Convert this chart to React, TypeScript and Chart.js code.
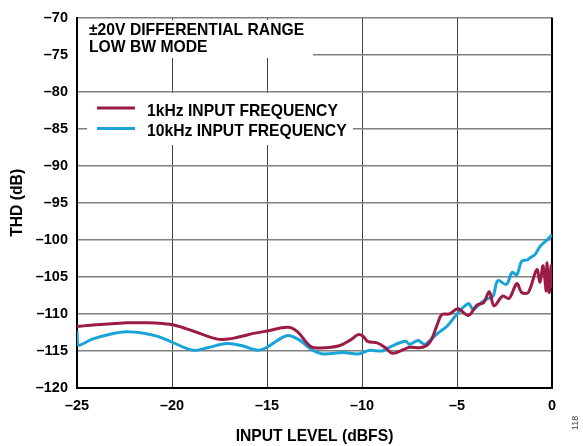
import React, { useEffect, useRef } from "react";
import { Chart, registerables } from "chart.js";

Chart.register(...registerables);

const xTicks = [-25, -20, -15, -10, -5, 0];
const yTicks = [-120, -115, -110, -105, -100, -95, -90, -85, -80, -75, -70];

const red1kX = [-25, -24, -23, -22.4, -21.3, -20.5, -19.9, -18.9, -17.6, -16.8, -16, -15, -13.9, -13.4, -12.7, -12.2, -11.2, -10.6, -10.2, -9.95, -9.7, -9.2, -8.8, -8.4, -7.8, -7.5, -6.8, -6.4, -6.05, -5.8, -5.4, -4.95, -4.4, -3.95, -3.6, -3.3, -3.05, -2.6, -2.26, -1.85, -1.6, -1.25, -0.8, -0.63, -0.47, -0.3, -0.26, -0.15, -0.05, 0];
const red1kY = [-111.7, -111.45, -111.3, -111.2, -111.2, -111.3, -111.5, -112.3, -113.4, -113.3, -112.8, -112.3, -111.8, -112.4, -114.4, -114.6, -114.3, -113.5, -112.8, -113.0, -113.7, -113.9, -114.5, -115.3, -114.8, -114.5, -114.5, -113.7, -111.5, -110.1, -110.0, -109.3, -110.2, -108.8, -108.5, -107.0, -108.9, -107.6, -107.9, -105.9, -107.1, -107.1, -104.0, -105.7, -103.5, -106.9, -103.1, -107.1, -103.5, -106.5];

const blue10kX = [-25, -24.95, -24.2, -23.2, -22.4, -21.5, -20.8, -20.1, -18.9, -18.2, -17.1, -16.3, -15.5, -15, -14.4, -13.9, -13.3, -12.6, -12.05, -11.0, -10.2, -9.6, -8.95, -8.4, -7.7, -7.5, -7.05, -6.7, -6.4, -6.0, -5.5, -5.0, -4.4, -4.15, -3.7, -3.35, -3.1, -2.85, -2.4, -2.1, -1.85, -1.6, -1.3, -1.15, -0.9, -0.63, -0.26, 0];
const blue10kY = [-112.3, -114.2, -113.4, -112.7, -112.4, -112.6, -113.0, -113.7, -114.9, -114.6, -114.0, -114.3, -114.9, -114.5, -113.5, -112.9, -113.5, -114.9, -115.4, -115.2, -115.4, -114.9, -115.0, -114.3, -113.7, -114.1, -113.6, -114.1, -113.5, -112.6, -111.6, -110.0, -108.6, -109.4, -108.4, -107.9, -107.6, -105.5, -106.0, -104.4, -104.7, -102.9, -102.7, -102.4, -102.0, -100.9, -100.0, -99.3];

const seriesLabels = ["1kHz INPUT FREQUENCY", "10kHz INPUT FREQUENCY"];
const seriesColors = ["#9b1b45", "#1aa3d8"];
const noteLines = ["±20V DIFFERENTIAL RANGE", "LOW BW MODE"];
const xTitle = "INPUT LEVEL (dBFS)";
const yTitle = "THD (dB)";
const figId = "118";

const FONT = "'Liberation Sans', Arial, sans-serif";
const fmt = (v: number) => (v < 0 ? "\u2013" + Math.abs(v) : String(v));

export default function App() {
  const ref = useRef<HTMLCanvasElement>(null);
  useEffect(() => {
    document.body.style.margin = "0";
    const canvas = ref.current!;
    const decor = {
      id: "decor",
      beforeDatasetsDraw(chart: any) {
        const ctx = chart.ctx;
        const { left, right, top, bottom } = chart.chartArea;
        ctx.save();
        // white boxes
        ctx.fillStyle = "#fff";
        ctx.fillRect(left + 1, 20, 235, 38);
        ctx.fillRect(87, 93, 266, 52);
        // right border
        ctx.strokeStyle = "#000";
        ctx.lineWidth = 2;
        ctx.beginPath();
        ctx.moveTo(right, top);
        ctx.lineTo(right, bottom);
        ctx.stroke();
        // note text
        ctx.fillStyle = "#000";
        ctx.font = "bold 15.7px " + FONT;
        ctx.textBaseline = "alphabetic";
        ctx.textAlign = "left";
        ctx.fillText(noteLines[0], 89, 34.5);
        ctx.fillText(noteLines[1], 89, 52);
        // legend
        for (let i = 0; i < 2; i++) {
          const y = 108 + i * 20.5;
          ctx.strokeStyle = seriesColors[i];
          ctx.lineWidth = 3;
          ctx.beginPath();
          ctx.moveTo(97, y);
          ctx.lineTo(135, y);
          ctx.stroke();
          ctx.fillStyle = "#000";
          ctx.fillText(seriesLabels[i], 147, y + 7.5);
        }
        ctx.restore();
      },
      afterDraw(chart: any) {
        const ctx = chart.ctx;
        const { left, right, top, bottom } = chart.chartArea;
        ctx.save();
        ctx.fillStyle = "#000";
        ctx.font = "bold 15.7px " + FONT;
        ctx.textAlign = "center";
        ctx.textBaseline = "alphabetic";
        ctx.fillText(xTitle, (left + right) / 2, 441);
        ctx.save();
        ctx.translate(22, (top + bottom) / 2);
        ctx.rotate(-Math.PI / 2);
        ctx.fillText(yTitle, 0, 0);
        ctx.restore();
        ctx.font = "9px " + FONT;
        ctx.fillStyle = "#444";
        ctx.translate(578, 423);
        ctx.rotate(-Math.PI / 2);
        ctx.fillText(figId, 0, 0);
        ctx.restore();
      },
    };
    const chart = new Chart(canvas, {
      type: "line",
      data: {
        datasets: [
          {
            label: seriesLabels[0],
            data: red1kX.map((x, i) => ({ x, y: red1kY[i] })),
            borderColor: seriesColors[0],
            borderWidth: 3,
            pointRadius: 0,
            tension: 0.35,
            fill: false,
          },
          {
            label: seriesLabels[1],
            data: blue10kX.map((x, i) => ({ x, y: blue10kY[i] })),
            borderColor: seriesColors[1],
            borderWidth: 3,
            pointRadius: 0,
            tension: 0.35,
            fill: false,
          },
        ],
      },
      options: {
        responsive: false,
        animation: false,
        layout: { padding: { left: 0, top: 9, right: 31, bottom: 0 } },
        plugins: { legend: { display: false }, tooltip: { enabled: false } },
        scales: {
          x: {
            type: "linear",
            min: -25,
            max: 0,
            afterBuildTicks: (s: any) => {
              s.ticks = xTicks.map((v) => ({ value: v }));
            },
            afterFit: (s: any) => {
              s.height = 58;
            },
            ticks: {
              callback: (v: any) => fmt(Number(v)),
              color: "#000",
              font: { family: FONT, size: 14.5, weight: "bold" },
              padding: 9,
              maxRotation: 0,
            },
            grid: { color: "#444", lineWidth: 1, drawTicks: false },
            border: { color: "#000", width: 2 },
          },
          y: {
            type: "linear",
            min: -120,
            max: -70,
            afterBuildTicks: (s: any) => {
              s.ticks = yTicks.map((v) => ({ value: v }));
            },
            afterFit: (s: any) => {
              s.width = 77;
            },
            ticks: {
              callback: (v: any) => fmt(Number(v)),
              color: "#000",
              font: { family: FONT, size: 14.5, weight: "bold" },
              padding: 9,
            },
            grid: { color: "#808080", lineWidth: 1.5, drawTicks: false },
            border: { color: "#000", width: 2 },
          },
        },
      },
      plugins: [decor],
    } as any);
    return () => chart.destroy();
  }, []);
  return (
    <div style={{ position: "absolute", left: 0, top: 0 }}>
      <canvas ref={ref} width={583} height={446} style={{ width: 583, height: 446, display: "block" }} />
    </div>
  );
}
